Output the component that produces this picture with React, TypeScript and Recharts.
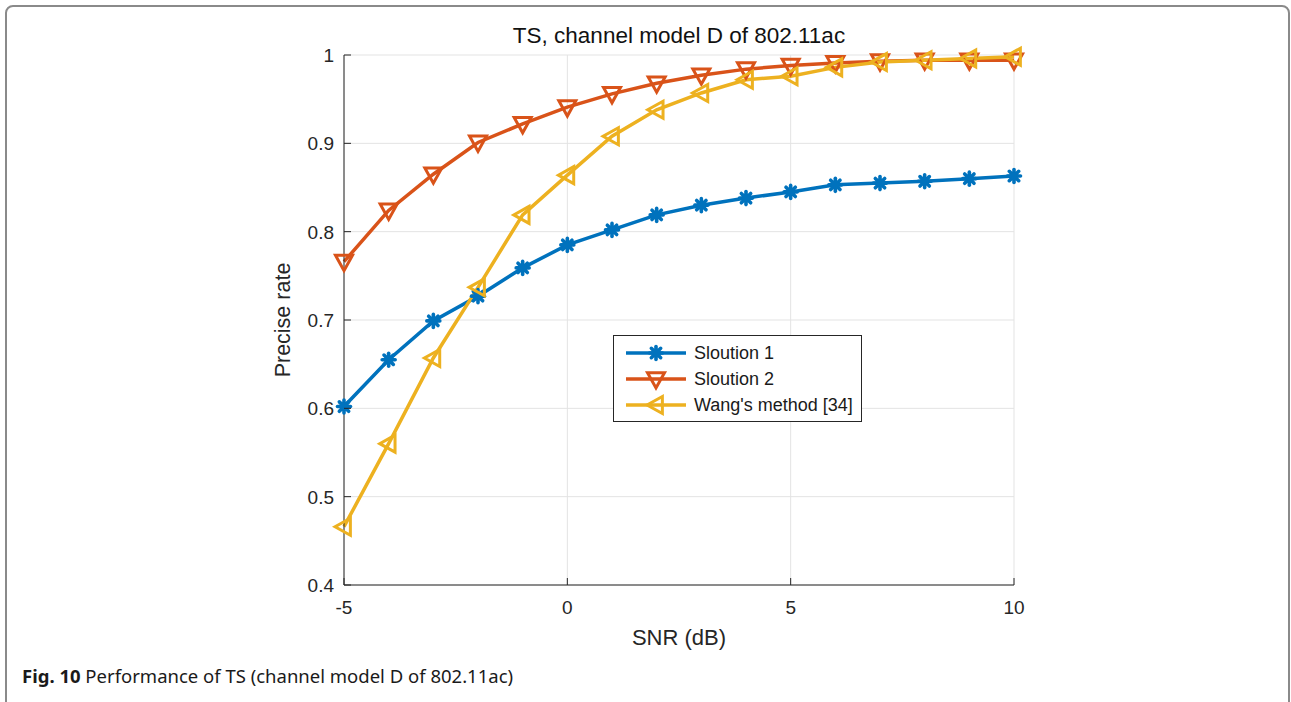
import { LineChart, Line, XAxis, YAxis, CartesianGrid, Legend } from "recharts";

const snr = [-5, -4, -3, -2, -1, 0, 1, 2, 3, 4, 5, 6, 7, 8, 9, 10];
const solution1 = [0.602, 0.655, 0.699, 0.727, 0.759, 0.785, 0.802, 0.819, 0.830, 0.838, 0.845, 0.853, 0.855, 0.857, 0.860, 0.863];
const solution2 = [0.766, 0.824, 0.865, 0.901, 0.922, 0.941, 0.956, 0.968, 0.977, 0.984, 0.988, 0.991, 0.993, 0.994, 0.994, 0.994];
const wang = [0.466, 0.560, 0.657, 0.737, 0.819, 0.864, 0.908, 0.938, 0.957, 0.972, 0.976, 0.986, 0.992, 0.994, 0.996, 0.998];

const xTicks = [-5, 0, 5, 10];
const yTicks = [0.4, 0.5, 0.6, 0.7, 0.8, 0.9, 1];

const seriesNames = ["Sloution 1", "Sloution 2", "Wang's method [34]"];
const colors = ["#0072BD", "#D95319", "#EDB120"];

const data = snr.map((s, i) => ({ snr: s, s1: solution1[i], s2: solution2[i], wang: wang[i] }));

const FONT = "'Liberation Sans', Arial, sans-serif";
const AXIS = "#262626";

// matlab '*' marker drawn with a thick line ends up looking like a blob
function Star({ cx, cy, color }: any) {
  const r = 6.5;
  const d = r * 0.72;
  return (
    <g stroke={color} strokeWidth={3.6} strokeLinecap="round">
      <line x1={cx - r} y1={cy} x2={cx + r} y2={cy} />
      <line x1={cx} y1={cy - r} x2={cx} y2={cy + r} />
      <line x1={cx - d} y1={cy - d} x2={cx + d} y2={cy + d} />
      <line x1={cx - d} y1={cy + d} x2={cx + d} y2={cy - d} />
      <circle cx={cx} cy={cy} r={4.5} fill={color} stroke="none" />
    </g>
  );
}

function TriDown({ cx, cy, color }: any) {
  const w = 8.5;
  const pts = `${cx - w},${cy - w * 0.75} ${cx + w},${cy - w * 0.75} ${cx},${cy + w * 1.05}`;
  return <polygon points={pts} fill="none" stroke={color} strokeWidth={3} strokeLinejoin="miter" />;
}

function TriLeft({ cx, cy, color }: any) {
  const w = 8.5;
  const pts = `${cx + w * 0.75},${cy - w} ${cx + w * 0.75},${cy + w} ${cx - w * 1.05},${cy}`;
  return <polygon points={pts} fill="none" stroke={color} strokeWidth={3} strokeLinejoin="miter" />;
}

const markers = [Star, TriDown, TriLeft];

function renderDot(idx: number) {
  const M = markers[idx];
  return (p: any) => <M key={`${idx}-${p.index}`} cx={p.cx} cy={p.cy} color={colors[idx]} />;
}

function BottomTick({ x, y, payload }: any) {
  return (
    <g>
      <line x1={x} y1={y} x2={x} y2={y - 7} stroke={AXIS} strokeWidth={1} />
      <text x={x} y={y + 29} textAnchor="middle" fontFamily={FONT} fontSize={19} fill={AXIS}>
        {payload.value}
      </text>
    </g>
  );
}

function TopTick({ x, y }: any) {
  return <line x1={x} y1={y} x2={x} y2={y + 7} stroke={AXIS} strokeWidth={1} />;
}

function LeftTick({ x, y, payload }: any) {
  return (
    <g>
      <line x1={x} y1={y} x2={x + 7} y2={y} stroke={AXIS} strokeWidth={1} />
      <text x={x - 10} y={y + 7} textAnchor="end" fontFamily={FONT} fontSize={19} fill={AXIS}>
        {payload.value}
      </text>
    </g>
  );
}

function RightTick({ x, y }: any) {
  return <line x1={x} y1={y} x2={x - 7} y2={y} stroke={AXIS} strokeWidth={1} />;
}

function LegendBox() {
  return (
    <div
      style={{
        width: 249,
        height: 87,
        border: `1px solid ${AXIS}`,
        background: "#fff",
        boxSizing: "border-box",
        paddingTop: 4,
      }}
    >
      {seriesNames.map((name, i) => {
        const M = markers[i];
        return (
          <div key={name} style={{ display: "flex", alignItems: "center", height: 26 }}>
            <svg width={80} height={26} style={{ display: "block" }}>
              <line x1={12} y1={13} x2={72} y2={13} stroke={colors[i]} strokeWidth={3.5} />
              <M cx={42} cy={13} color={colors[i]} />
            </svg>
            <span style={{ fontFamily: FONT, fontSize: 18, color: "#1a1a1a" }}>{name}</span>
          </div>
        );
      })}
    </div>
  );
}

export default function App() {
  return (
    <div style={{ position: "absolute", left: 0, top: 0, width: 1291, height: 702, background: "#fff", overflow: "hidden" }}>
      <div
        style={{
          position: "absolute",
          left: 5,
          top: 5,
          width: 1285,
          height: 720,
          border: "2px solid #8a8a8a",
          borderRadius: 8,
          boxSizing: "border-box",
        }}
      />
      <LineChart
        width={1291}
        height={702}
        data={data}
        margin={{ top: 55, right: 277, bottom: 87, left: 284 }}
        style={{ position: "absolute", left: 0, top: 0 }}
      >
        <CartesianGrid stroke="#e3e3e3" strokeWidth={1} horizontalValues={yTicks} verticalValues={xTicks} />
        <XAxis
          dataKey="snr"
          type="number"
          domain={[-5, 10]}
          ticks={xTicks}
          height={30}
          tickSize={0}
          tickMargin={0}
          tickLine={false}
          axisLine={{ stroke: AXIS, strokeWidth: 1 }}
          tick={<BottomTick />}
          interval={0}
        />
        <XAxis
          xAxisId="top"
          orientation="top"
          dataKey="snr"
          type="number"
          domain={[-5, 10]}
          ticks={xTicks}
          height={0}
          tickSize={0}
          tickMargin={0}
          tickLine={false}
          axisLine={{ stroke: AXIS, strokeWidth: 1 }}
          tick={<TopTick />}
          interval={0}
        />
        <YAxis
          type="number"
          domain={[0.4, 1]}
          ticks={yTicks}
          width={60}
          tickSize={0}
          tickMargin={0}
          tickLine={false}
          axisLine={{ stroke: AXIS, strokeWidth: 1 }}
          tick={<LeftTick />}
          interval={0}
        />
        <YAxis
          yAxisId="right"
          orientation="right"
          type="number"
          domain={[0.4, 1]}
          ticks={yTicks}
          width={0}
          tickSize={0}
          tickMargin={0}
          tickLine={false}
          axisLine={{ stroke: AXIS, strokeWidth: 1 }}
          tick={<RightTick />}
          interval={0}
        />
        <Line dataKey="s1" name={seriesNames[0]} stroke={colors[0]} strokeWidth={3.5} dot={renderDot(0)} activeDot={false} isAnimationActive={false} />
        <Line dataKey="s2" name={seriesNames[1]} stroke={colors[1]} strokeWidth={3.5} dot={renderDot(1)} activeDot={false} isAnimationActive={false} />
        <Line dataKey="wang" name={seriesNames[2]} stroke={colors[2]} strokeWidth={3.5} dot={renderDot(2)} activeDot={false} isAnimationActive={false} />
        <Legend
          content={<LegendBox />}
          wrapperStyle={{ position: "absolute", left: 613, top: 335, width: 249, height: 0, overflow: "visible" }}
        />
        <text x={679} y={43} textAnchor="middle" fontFamily={FONT} fontSize={22.5} fill="#111">
          TS, channel model D of 802.11ac
        </text>
        <text x={679} y={645} textAnchor="middle" fontFamily={FONT} fontSize={22} fill={AXIS}>
          SNR (dB)
        </text>
        <text
          x={290}
          y={320}
          textAnchor="middle"
          fontFamily={FONT}
          fontSize={21.5}
          fill={AXIS}
          transform="rotate(-90 290 320)"
        >
          Precise rate
        </text>
      </LineChart>
      <div
        style={{
          position: "absolute",
          left: 22,
          top: 663,
          fontFamily: "'Noto Sans', 'Open Sans', sans-serif",
          fontSize: 18.5,
          color: "#1a1a1a",
          whiteSpace: "nowrap",
        }}
      >
        <b>Fig. 10</b> Performance of TS (channel model D of 802.11ac)
      </div>
    </div>
  );
}
